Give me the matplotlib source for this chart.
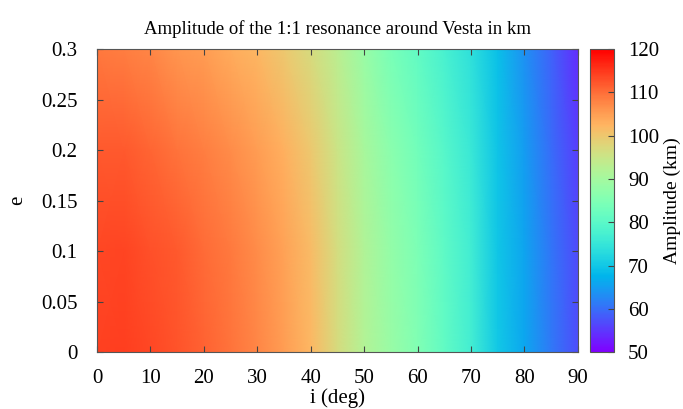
import numpy as np
import matplotlib
matplotlib.use("Agg")
import matplotlib.pyplot as plt
from matplotlib.ticker import FormatStrFormatter

plt.rcParams['font.family'] = ['Liberation Serif', 'DejaVu Serif']

inclination = [0, 5, 10, 15, 20, 25, 30, 35, 40, 45, 50, 55, 60, 65, 70, 75, 80, 85, 90]
eccentricity = [0.0, 0.1, 0.2, 0.3]
amp_e00 = [114, 114.5, 113.5, 112.5, 111, 109.5, 107.5, 105, 102, 97, 92, 88.5, 85, 81, 77, 70, 66, 61, 57]
amp_e01 = [113.5, 113.8, 112.8, 111.8, 110.3, 108.8, 106.9, 104.5, 101.5, 96.6, 91.6, 88, 84.6, 80.6, 76.7, 69.9, 65.7, 60.8, 56.7]
amp_e02 = [111.8, 111.9, 110.9, 109.6, 108.4, 106.9, 105.1, 102.8, 99.8, 95.2, 90.5, 86.5, 83.2, 79.5, 75.7, 69.6, 64.9, 60.1, 55.7]
amp_e03 = [109, 108.5, 107.5, 106, 105, 103.5, 102, 100, 97, 93, 88.5, 84, 81, 77.5, 74, 69, 63.5, 59, 54]

x_ticks = [0, 10, 20, 30, 40, 50, 60, 70, 80, 90]
y_ticks = [0, 0.05, 0.1, 0.15, 0.2, 0.25, 0.3]
cb_ticks = [50, 60, 70, 80, 90, 100, 110, 120]

Z = np.array([amp_e00, amp_e01, amp_e02, amp_e03])
X, Y = np.meshgrid(inclination, eccentricity)

fig = plt.figure(figsize=(6.83, 4.09), dpi=100)
ax = fig.add_axes([0.142, 0.139, 0.704, 0.741])
cax = fig.add_axes([0.864, 0.139, 0.035, 0.741])

mesh = ax.pcolormesh(X, Y, Z, cmap='rainbow', vmin=50, vmax=120, shading='gouraud')
ax.set_xlim(0, 90)
ax.set_ylim(0, 0.3)
ax.set_xticks(x_ticks)
ax.set_yticks(y_ticks)
ax.yaxis.set_major_formatter(FormatStrFormatter('%g'))
ax.tick_params(direction='in', top=True, right=True, length=4, width=0.8,
               color='#444444', labelsize=15)
ax.tick_params(axis='y', pad=14)
ax.tick_params(axis='x', pad=12)
for s in ax.spines.values():
    s.set_color('#555555')
    s.set_linewidth(0.8)
ax.set_title('Amplitude of the 1:1 resonance around Vesta in km', fontsize=13.5, pad=11)
ax.set_xlabel('i (deg)', fontsize=15, labelpad=0)
ax.set_ylabel('e', fontsize=15, labelpad=10)

cb = fig.colorbar(mesh, cax=cax, ticks=cb_ticks)
cb.outline.set_edgecolor('#555555')
cb.outline.set_linewidth(0.8)
cax.tick_params(direction='in', length=4, width=0.8, color='#444444', labelsize=15, pad=10)
cb.set_label('Amplitude (km)', fontsize=14, labelpad=3)

fig.savefig('out.png', dpi=100)
